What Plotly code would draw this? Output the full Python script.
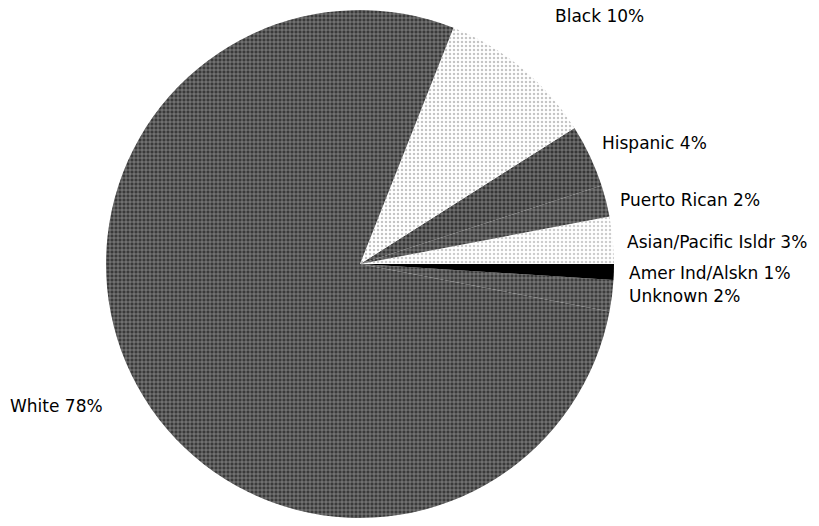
import plotly.graph_objects as go

# Data (counterclockwise from 3 o'clock)
labels = ["Asian/Pacific Isldr", "Puerto Rican", "Hispanic", "Black", "White", "Unknown", "Amer Ind/Alskn"]
values = [3, 2, 4, 10, 78, 2, 1]
bg_colors = ["#ffffff", "#3c3c3c", "#363636", "#ffffff", "#3a3a3a", "#3c3c3c", "#000000"]
fg_colors = ["#9a9a9a", "#ffffff", "#ffffff", "#8a8a8a", "#ffffff", "#ffffff", "#000000"]
shapes = [".", "+", "+", ".", "+", "+", ""]

# Label placement (pixels from top-left), same order as labels
label_x = [625, 618, 600, 553, 8, 627, 627]
label_y = [242, 200, 143, 16, 406, 296, 273]

W, H = 819, 526
cx, cy, r = 360, 264, 254

fig = go.Figure(go.Pie(
    labels=labels,
    values=values,
    sort=False,
    direction="counterclockwise",
    rotation=79.2,
    marker=dict(
        colors=bg_colors,
        line=dict(width=0),
        pattern=dict(shape=shapes, fgcolor=fg_colors, bgcolor=bg_colors,
                     size=4, solidity=0.3, fillmode="overlay"),
    ),
    textinfo="none",
    hoverinfo="label+percent",
    domain=dict(x=[(cx - r) / W, (cx + r) / W],
                y=[(H - cy - r) / H, (H - cy + r) / H]),
    showlegend=False,
))

for lab, val, lx, ly in zip(labels, values, label_x, label_y):
    fig.add_annotation(
        text=f"{lab} {val}%",
        x=lx / W, y=1 - ly / H, xref="paper", yref="paper",
        xanchor="left", yanchor="middle", showarrow=False,
        font=dict(family="DejaVu Sans", size=17, color="#000000"),
    )

fig.update_layout(
    width=W, height=H,
    margin=dict(l=0, r=0, t=0, b=0),
    paper_bgcolor="white", plot_bgcolor="white",
)

fig.write_html("out.html", config={"displayModeBar": False},
               post_script="document.body.style.margin='0';")
